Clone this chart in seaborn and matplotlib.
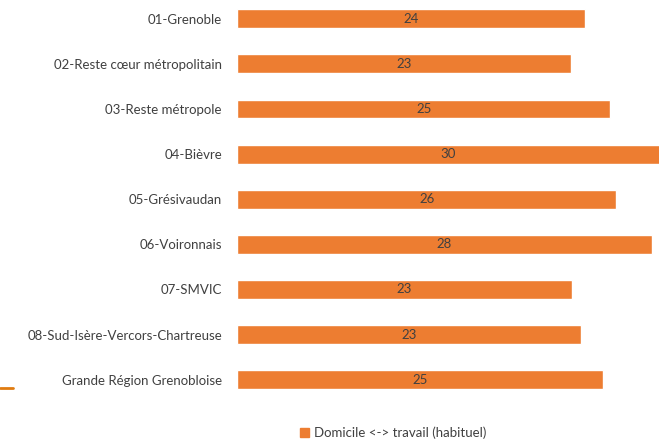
import matplotlib.pyplot as plt
import matplotlib.patches as mpatches
import matplotlib.lines as mlines
import seaborn as sns
import pandas as pd

# Données : temps moyen domicile <-> travail (habituel), en minutes
territoires = [
    "01-Grenoble",
    "02-Reste cœur métropolitain",
    "03-Reste métropole",
    "04-Bièvre",
    "05-Grésivaudan",
    "06-Voironnais",
    "07-SMVIC",
    "08-Sud-Isère-Vercors-Chartreuse",
    "Grande Région Grenobloise",
]
valeurs = [23.6, 22.6, 25.3, 30.0, 25.7, 28.1, 22.7, 23.3, 24.8]
serie = "Domicile <-> travail (habituel)"

df = pd.DataFrame({"territoire": territoires, "valeur": valeurs})

orange = "#ED7D31"
gris = "#404040"

sns.set_theme(style="white")
plt.rcParams["font.family"] = ["Lato", "DejaVu Sans"]

fig = plt.figure(figsize=(6.59, 4.41), dpi=100)
ax = fig.add_axes([0.360, 0.088, 0.640, 0.9205])

sns.barplot(data=df, x="valeur", y="territoire", orient="h", color=orange,
            width=0.42, saturation=1, ax=ax)

xmax = 28.6
ax.set_xlim(0, xmax)
ax.set_ylim(len(territoires) - 0.5, -0.5)

# étiquettes de données au centre de la partie visible de la barre
for i, v in enumerate(valeurs):
    ax.text(min(v, xmax) / 2, i, f"{v:.0f}", ha="center", va="center",
            fontsize=9.5, color=gris)

ax.set_xlabel("")
ax.set_ylabel("")
ax.set_xticks([])
ax.tick_params(axis="y", length=0, pad=11, labelsize=9.5, labelcolor=gris)
for s in ax.spines.values():
    s.set_visible(False)

handle = mpatches.Patch(color=orange, label=serie)
fig.legend(handles=[handle], loc="center", bbox_to_anchor=(0.597, 0.018),
           frameon=False, fontsize=9.5, labelcolor=gris,
           handlelength=0.7, handleheight=0.7, handletextpad=0.4)

# petit trait orange en marge gauche
fig.add_artist(mlines.Line2D([0, 0.02], [1 - 388 / 441] * 2, color="#E07B10",
                             linewidth=2, transform=fig.transFigure))

fig.savefig("out.png", dpi=100)
